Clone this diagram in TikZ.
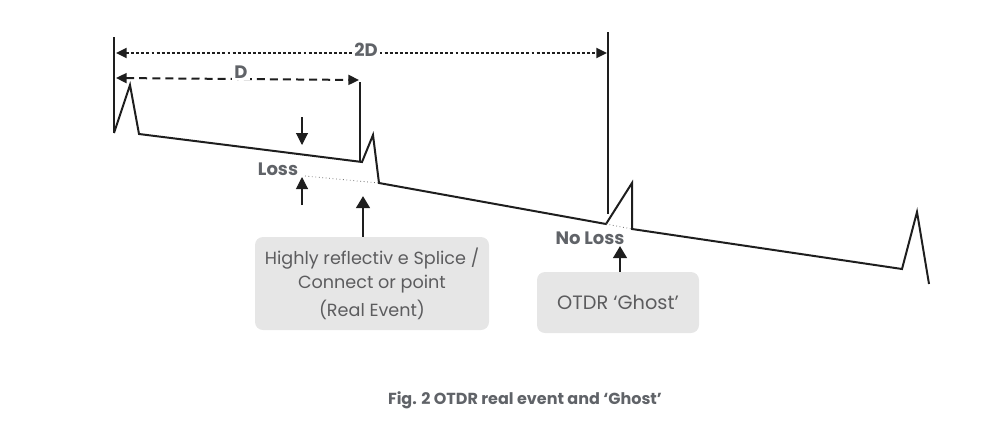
\documentclass[tikz,border=0pt]{standalone}
\usepackage{fontspec}
\setmainfont{Poppins}
\usetikzlibrary{arrows.meta, positioning}
\definecolor{mytrace}{RGB}{30,30,30}
\definecolor{mytext}{RGB}{92,92,94}
\definecolor{mylabel}{RGB}{96,99,104}
\definecolor{myboxfill}{RGB}{230,230,230}
\definecolor{mydotted}{RGB}{110,110,110}
\tikzset{
  trace/.style={line width=1.5pt, color=mytrace, line join=miter},
  marker/.style={line width=1.1pt, color=mytrace},
  dimdotted/.style={{Triangle[length=8pt,width=7.5pt]}-{Triangle[length=8pt,width=7.5pt]},
    line width=1.5pt, dash pattern=on 2.2pt off 1.6pt, color=mytrace},
  dimdashed/.style={{Triangle[length=8pt,width=7.5pt]}-{Triangle[length=8pt,width=7.5pt]},
    line width=1.5pt, dash pattern=on 6pt off 3.8pt, color=mytrace},
  lossarrow/.style={-{Triangle[length=9pt,width=9pt]}, line width=0.8pt, color=mytrace},
  bigarrow/.style={-{Triangle[length=9pt,width=10pt]}, line width=2.2pt, color=mytrace},
  faint/.style={line width=0.6pt, dotted, color=mydotted},
  dimlabel/.style={font=\bfseries\fontsize{13.5}{15}\selectfont, text=mylabel, fill=white, inner sep=1.5pt},
  evlabel/.style={font=\bfseries\fontsize{13.5}{15}\selectfont, text=mylabel, inner sep=1pt},
  infobox/.style={rectangle, fill=myboxfill, rounded corners=6pt, align=center,
    font=\fontsize{13.2}{18}\selectfont, text=mytext, inner sep=0pt},
  caption/.style={font=\bfseries\fontsize{12}{14}\selectfont, text=mylabel}
}
\begin{document}
\begin{tikzpicture}[x=0.75pt, y=-0.75pt]
  \useasboundingbox (0,0) rectangle (1002,425);
  % trace points
  \coordinate (start) at (114,133);
  \coordinate (p1) at (130,85);
  \coordinate (p2) at (139,134);
  \coordinate (spl) at (362,162);
  \coordinate (p3) at (373,135);
  \coordinate (p4) at (379,183);
  \coordinate (gh) at (606,224);
  \coordinate (p5) at (632,183);
  \coordinate (p6) at (632,229);
  \coordinate (p7) at (902,269);
  \coordinate (p8) at (917,212);
  \coordinate (fin) at (929,284);
  % OTDR trace
  \draw[trace] (start) -- (p1) -- (p2) -- (spl) -- (p3) -- (p4) -- (gh) -- (p5) -- (p6) -- (p7) -- (p8) -- (fin);
  % vertical markers
  \coordinate (m0) at (114,37);
  \coordinate (m1) at (360,82);
  \coordinate (m1b) at (360,162);
  \coordinate (m2) at (608,32);
  \coordinate (m2b) at (608,214);
  \draw[marker] (m0) -- (start);
  \draw[marker] (m1) -- (m1b);
  \draw[marker] (m2) -- (m2b);
  % distances
  \coordinate (a2l) at (116,53);
  \coordinate (a2r) at (607,53);
  \coordinate (a1l) at (116,78);
  \coordinate (a1r) at (359,80);
  \draw[dimdotted] (a2l) -- (a2r);
  \draw[dimdashed] (a1l) -- (a1r);
  \node[dimlabel] (l2d) at (366,50) {2D};
  \node[dimlabel] (l1d) at (241,72) {D};
  % loss
  \coordinate (ld0) at (302,117);
  \coordinate (ld1) at (302,145);
  \coordinate (lu0) at (302,205);
  \coordinate (lu1) at (302,177);
  \coordinate (lossdot) at (305,176);
  \draw[lossarrow] (ld0) -- (ld1);
  \draw[lossarrow] (lu0) -- (lu1);
  \draw[faint] (lossdot) -- (p4);
  \draw[faint] (gh) -- (p6);
  \node[evlabel] (loss) at (278,169) {Loss};
  \node[evlabel] (noloss) at (590,238) {No Loss};
  % boxes
  \node[infobox, minimum width=175.5pt, minimum height=69.75pt] (real) at (372,283.5)
    {Highly reflectiv e Splice /\\Connect or point\\[3pt](Real Event)};
  \node[infobox, minimum width=121.5pt, minimum height=45.75pt, font=\fontsize{14.5}{18.5}\selectfont] (ghost) at (618,302.5)
    {OTDR ‘Ghost’};
  \coordinate (realtip) at (363,196);
  \coordinate (ghosttip) at (620,246);
  \draw[bigarrow] ([xshift=-6.75pt]real.north) -- (realtip);
  \draw[bigarrow] ([xshift=1.5pt]ghost.north) -- (ghosttip);
  % caption
  \node[caption] (cap) at (525,400) {Fig. 2 OTDR real event and ‘Ghost’};
\end{tikzpicture}
\end{document}
